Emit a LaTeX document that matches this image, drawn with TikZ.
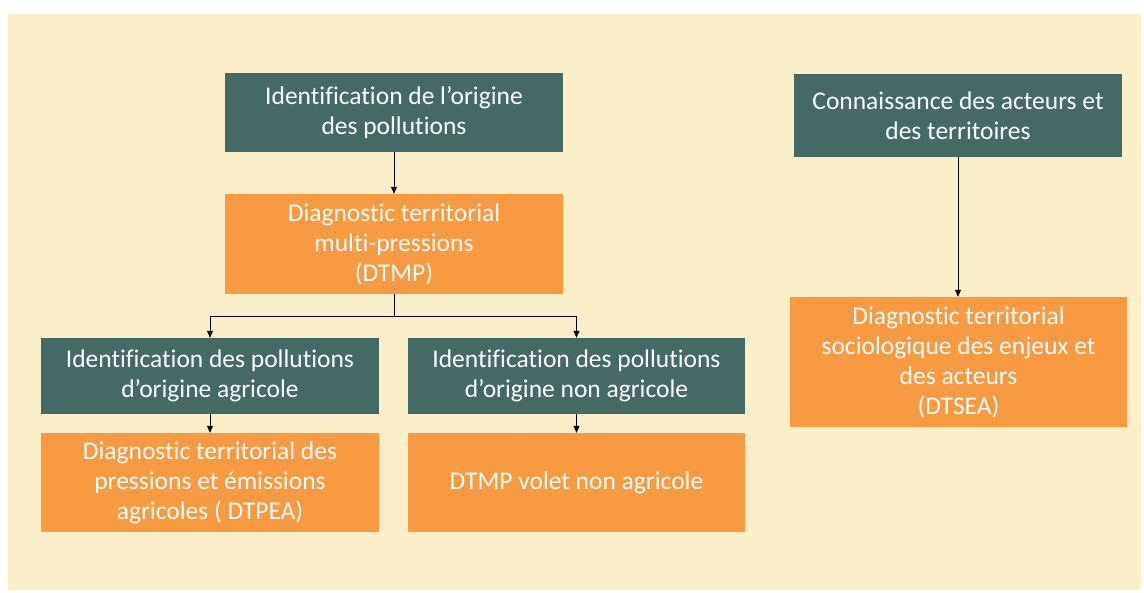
\documentclass[tikz,border=0pt]{standalone}
\usepackage{fontspec}
\setmainfont{Carlito}[Ligatures={NoCommon}]
\usetikzlibrary{arrows.meta}
\definecolor{creambg}{HTML}{FAEFC8}
\definecolor{tealbox}{HTML}{456964}
\definecolor{orangebox}{HTML}{F79A42}
\tikzset{
  base/.style={rectangle, inner sep=0pt, text=white, align=center,
    font=\fontsize{25.5}{30}\selectfont},
  darkbox/.style={base, fill=tealbox},
  orbox/.style={base, fill=orangebox},
  conn/.style={draw=black, line width=0.8pt, -{Triangle[width=6pt,length=7pt]}}
}
\begin{document}
\begin{tikzpicture}[x=1pt,y=-1pt]
\useasboundingbox (0,0) rectangle (1144,593);
\fill[white] (0,0) rectangle (1144,593);
\fill[creambg] (8,14) rectangle (1141,590);
\node[darkbox, minimum width=338pt, minimum height=79pt] (A) at (394,112.5) {Identification de l’origine\\des pollutions};
\node[orbox, minimum width=338pt, minimum height=100pt] (B) at (394,244) {Diagnostic territorial\\multi-pressions\\(DTMP)};
\node[darkbox, minimum width=338pt, minimum height=76pt] (C) at (210,376) {Identification des pollutions\\d’origine agricole};
\node[orbox, minimum width=338pt, minimum height=99pt] (D) at (210,482.5) {Diagnostic territorial des\\pressions et émissions\\agricoles ( DTPEA)};
\node[darkbox, minimum width=337pt, minimum height=76pt] (E) at (576.5,376) {Identification des pollutions\\d’origine non agricole};
\node[orbox, minimum width=337pt, minimum height=99pt] (F) at (576.5,482.5) {DTMP volet non agricole};
\node[darkbox, minimum width=328pt, minimum height=83pt] (G) at (958,115.5) {Connaissance des acteurs et\\des territoires};
\node[orbox, minimum width=337pt, minimum height=130pt] (H) at (958.5,362) {Diagnostic territorial\\sociologique des enjeux et\\des acteurs\\(DTSEA)};
\coordinate (split) at (394,316);
\draw[conn] (A.south) -- (B.north);
\draw[conn] (B.south) -- (split) -| (C.north);
\draw[conn] (split) -| (E.north);
\draw[conn] (C.south) -- (D.north);
\draw[conn] (E.south) -- (F.north);
\draw[conn] (G.south) -- (G.south |- H.north);
\end{tikzpicture}
\end{document}
